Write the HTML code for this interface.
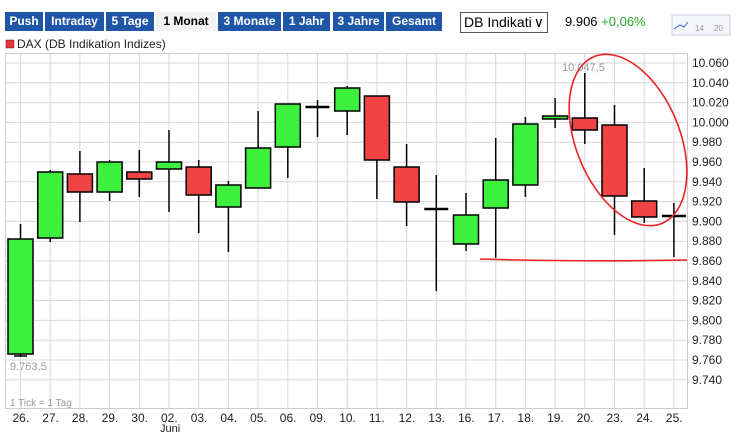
<!DOCTYPE html>
<html><head><meta charset="utf-8"><style>
body{margin:0;width:736px;height:436px;background:#fff;overflow:hidden;font-family:"Liberation Sans",sans-serif;}
.b{position:absolute;top:12px;height:19px;background:#1f56a8;color:#fff;font-weight:bold;font-size:12px;line-height:19px;text-align:center;}
</style></head><body>
<div class="b" style="left:5px;width:38px">Push</div>
<div class="b" style="left:45px;width:59px">Intraday</div>
<div class="b" style="left:106px;width:48px">5 Tage</div>
<div class="b" style="left:156px;width:60px;background:#f2f2f2;color:#000">1 Monat</div>
<div class="b" style="left:218px;width:63px">3 Monate</div>
<div class="b" style="left:283px;width:47px">1 Jahr</div>
<div class="b" style="left:333px;width:51px">3 Jahre</div>
<div class="b" style="left:386px;width:56px">Gesamt</div>
<div style="position:absolute;left:460px;top:12px;width:88px;height:21px;border:1px solid #555;font-size:14px;line-height:19px;padding-left:3px;box-sizing:border-box">DB Indikati <span style="position:absolute;right:3px">&#8744;</span></div>
<div style="position:absolute;left:565px;top:14px;font-size:13px">9.906 <span style="color:#2a2">+0,06%</span></div>
<svg width="736" height="436" style="position:absolute;left:0;top:0" font-family="Liberation Sans, sans-serif">
<rect x="672" y="15" width="58" height="20" fill="#f4f6fa" stroke="#ccd"/>
<text x="695" y="31" font-size="8" fill="#999">14</text><text x="714" y="31" font-size="8" fill="#999">20</text>
<polyline points="674,29 680,25 684,27 688,22" fill="none" stroke="#36c"/>
<rect x="6" y="40" width="8" height="8" fill="#e33" stroke="#333" stroke-width="0.5"/>
<text x="17" y="48" font-size="12" fill="#222">DAX (DB Indikation Indizes)</text>
<g id="grid" stroke="#d8d8d8" stroke-width="1"></g>
<rect x="5.5" y="53.5" width="682" height="355" fill="none" stroke="#ccc"/>
<g id="yl" font-size="12" fill="#222"></g>
<g id="xl" font-size="12" fill="#222"></g>
<g id="c" stroke="#000" stroke-width="1.5"></g>
<text x="562" y="71" font-size="11" fill="#999">10.047,5</text>
<text x="10" y="370" font-size="11" fill="#999">9.763,5</text>
<text x="10" y="406" font-size="10" fill="#999">1 Tick = 1 Tag</text>
<text x="160" y="432" font-size="11" fill="#222">Juni</text>
<ellipse cx="628" cy="140" rx="52" ry="90" transform="rotate(-22 628 140)" fill="none" stroke="#e22" stroke-width="1.6"/>
<path d="M480 259 Q580 262 687 260" fill="none" stroke="#e22" stroke-width="1.6"/>
</svg>
<script>
var ns="http://www.w3.org/2000/svg";
function el(p,t,a,txt){var e=document.createElementNS(ns,t);for(var k in a)e.setAttribute(k,a[k]);if(txt)e.textContent=txt;document.getElementById(p).appendChild(e);}
var labs=["26.","27.","28.","29.","30.","02.","03.","04.","05.","06.","09.","10.","11.","12.","13.","16.","17.","18.","19.","20.","23.","24.","25."];
for(var i=0;i<23;i++){var x=20.5+i*29.7;el("grid","line",{x1:x,x2:x,y1:54,y2:408});el("xl","text",{x:x-8,y:422},labs[i]);}
for(var v=10060,j=0;v>=9740;v-=20,j++){var y=63+j*19.8;el("grid","line",{x1:5,x2:687,y1:y,y2:y});var s=(v/1000).toFixed(3);el("yl","text",{x:692,y:y+4},s);}
var C=[[224,239,354,356,1],[170,172,238,242,1],[151,174,192,222,0],[160,162,192,201,1],[150,172,179,197,0],[130,162,169,212,1],[160,167,195,233,0],[181,185,207,252,1],[111,148,188,188,1],[106,104,147,178,1],[100,107,107,137,2],[86,88,111,135,1],[96,96,160,199,0],[144,167,202,226,0],[175,209,209,291,2],[193,215,244,251,1],[138,180,208,258,1],[117,124,185,197,1],[98,116,119,128,1],[73,118,130,144,0],[105,125,196,235,0],[168,201,217,223,0],[203,216,216,257,2]];
for(var i=0;i<23;i++){var x=20.5+i*29.7,c=C[i];el("c","line",{x1:x,x2:x,y1:c[0],y2:c[3]});
if(c[4]==2)el("c","line",{x1:x-12,x2:x+12,y1:c[1],y2:c[1],"stroke-width":2.5});
else el("c","rect",{x:x-12.5,y:c[1],width:25,height:Math.max(c[2]-c[1],2),fill:c[4]?"#3ef03e":"#f04444"});}
el("c","line",{x1:14,x2:27,y1:356,y2:356});
</script>
</body></html>
